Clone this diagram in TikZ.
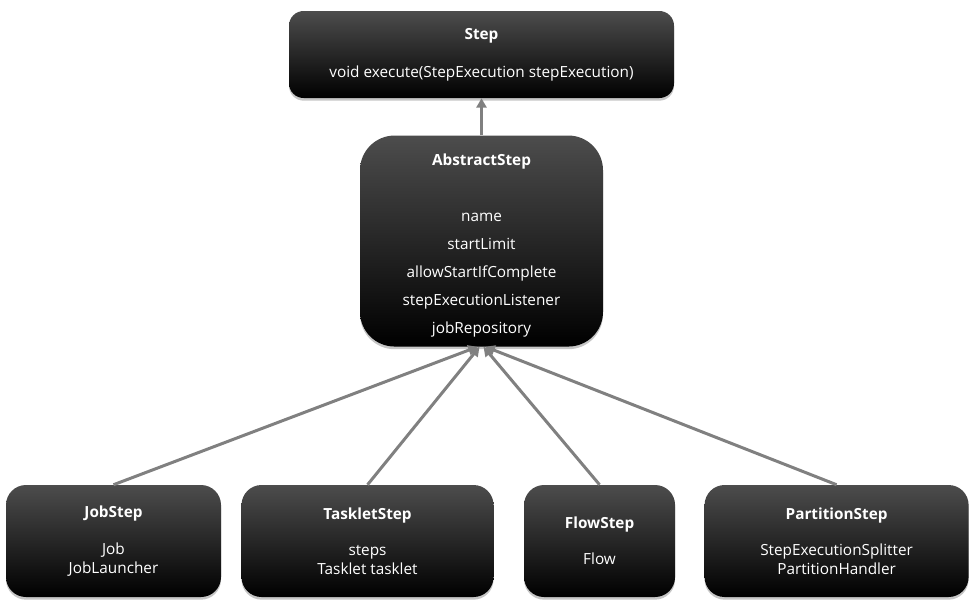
\documentclass[tikz,border=0pt]{standalone}
\usepackage{fontspec}
\setmainfont{Open Sans}
\usetikzlibrary{arrows.meta,positioning,shadows}

\begin{document}
\begin{tikzpicture}
[x=0.75pt, y=-0.75pt, >={Triangle[length=7pt,width=7.5pt]},
every node/.style={font=\fontsize{11.5pt}{14.25pt}\selectfont, text=white, align=center},
cls/.style={rounded corners=15pt, top color=black!70, middle color=black, bottom color=black,
  draw=none, drop shadow={opacity=0.45, shadow xshift=0pt, shadow yshift=-2pt}},
link/.style={->, draw=black!50, line width=2.25pt}
]
  \useasboundingbox (0,0) rectangle (975,608);

  \node[cls, rounded corners=11pt, minimum width=288.75pt, minimum height=65.25pt]
    (step) at (481.5,54.5) {\textbf{Step}\\[14pt]void execute(StepExecution stepExecution)};
  \node[cls, rounded corners=26pt, minimum width=182.25pt, minimum height=158.25pt]
    (abstract) [below=27.75pt of step]
    {\begin{tabular}{@{}c@{}}\noalign{\vskip7pt}\textbf{AbstractStep}\\[27.75pt]name\\[6.75pt]startLimit\\[6.75pt]allowStartIfComplete\\[6.75pt]stepExecutionListener\\[6.75pt]jobRepository\end{tabular}};

  % subclasses
  \node[cls, minimum width=161.25pt, minimum height=84pt] (job) at (113.5,541)
    {\textbf{JobStep}\\[13pt]Job\\JobLauncher};
  \node[cls, minimum width=189pt, minimum height=84pt] (tasklet) [right=15pt of job]
    {\textbf{TaskletStep}\\[13pt]steps\\Tasklet tasklet};
  \node[cls, minimum width=113.25pt, minimum height=84pt] (flow) [right=22.5pt of tasklet]
    {\textbf{FlowStep}\\[13pt]Flow};
  \node[cls, minimum width=198pt, minimum height=84pt] (partition) [right=21.75pt of flow]
    {\textbf{PartitionStep}\\[13pt]StepExecutionSplitter\\PartitionHandler};

  \draw[link] (abstract.north) -- (step.south);
  \draw[link] (job.north) -- ([xshift=-3pt]abstract.south);
  \draw[link] (tasklet.north) -- ([xshift=-1.5pt]abstract.south);
  \draw[link] (flow.north) -- ([xshift=1.5pt]abstract.south);
  \draw[link] (partition.north) -- ([xshift=3pt]abstract.south);
\end{tikzpicture}
\end{document}
